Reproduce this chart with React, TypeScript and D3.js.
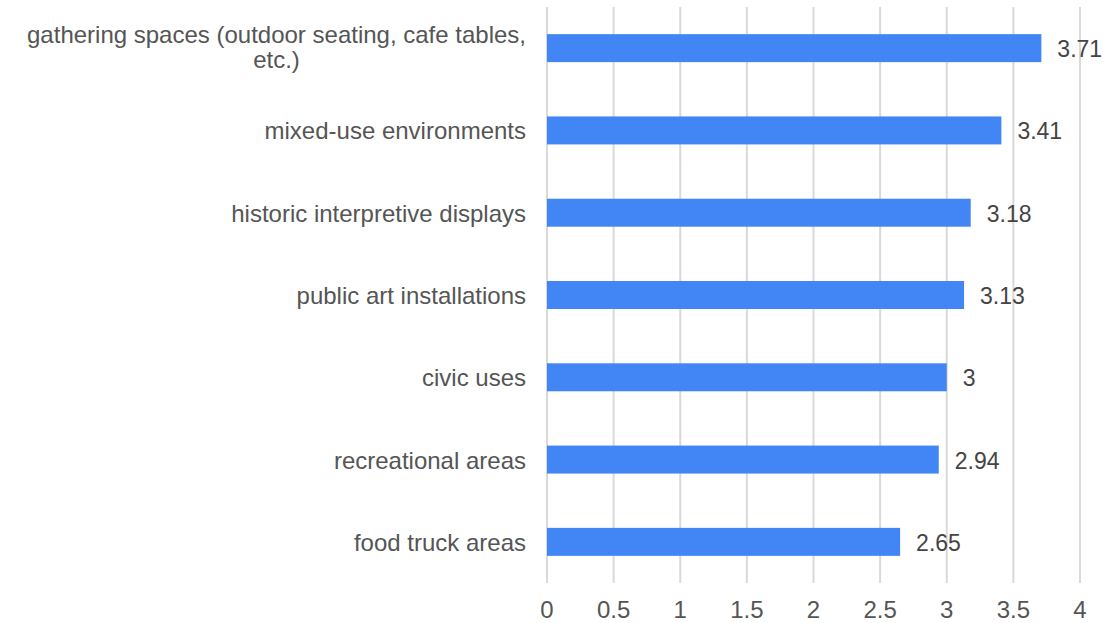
import React, { useEffect, useRef } from "react";
import * as d3 from "d3";

const categories: string[] = [
  "gathering spaces (outdoor seating, cafe tables, etc.)",
  "mixed-use environments",
  "historic interpretive displays",
  "public art installations",
  "civic uses",
  "recreational areas",
  "food truck areas",
];
const labelLines: string[][] = [
  ["gathering spaces (outdoor seating, cafe tables,", "etc.)"],
  ["mixed-use environments"],
  ["historic interpretive displays"],
  ["public art installations"],
  ["civic uses"],
  ["recreational areas"],
  ["food truck areas"],
];
const values: number[] = [3.71, 3.41, 3.18, 3.13, 3, 2.94, 2.65];
const ticks: number[] = [0, 0.5, 1, 1.5, 2, 2.5, 3, 3.5, 4];

export default function App() {
  const ref = useRef<SVGSVGElement>(null);
  useEffect(() => {
    const svg = d3.select(ref.current);
    svg.selectAll("*").remove();
    const font = "'Liberation Sans', Arial, sans-serif";
    const x = d3.scaleLinear().domain([0, 4]).range([547, 1080]);
    const y = d3
      .scaleBand<string>()
      .domain(categories)
      .range([7, 583])
      .paddingInner(0.66)
      .paddingOuter(0.33);

    svg
      .append("g")
      .selectAll("line")
      .data(ticks)
      .join("line")
      .attr("x1", (d) => x(d))
      .attr("x2", (d) => x(d))
      .attr("y1", 7)
      .attr("y2", 583)
      .attr("stroke", "#d9d9d9")
      .attr("stroke-width", 2);

    svg
      .append("g")
      .selectAll("text")
      .data(ticks)
      .join("text")
      .attr("x", (d) => x(d))
      .attr("y", 618)
      .attr("text-anchor", "middle")
      .attr("font-family", font)
      .attr("font-size", 24)
      .attr("fill", "#555")
      .text((d) => String(d));

    svg
      .append("g")
      .selectAll("rect")
      .data(values)
      .join("rect")
      .attr("x", x(0))
      .attr("y", (_d, i) => y(categories[i])!)
      .attr("width", (d) => x(d) - x(0))
      .attr("height", y.bandwidth())
      .attr("fill", "#4285f4");

    svg
      .append("g")
      .selectAll("text")
      .data(values)
      .join("text")
      .attr("x", (d) => x(d) + 16)
      .attr("y", (_d, i) => y(categories[i])! + y.bandwidth() / 2 + 9)
      .attr("font-family", font)
      .attr("font-size", 23)
      .attr("fill", "#444")
      .text((d) => String(d));

    const lg = svg.append("g");
    labelLines.forEach((lines, i) => {
      const cy = y(categories[i])! + y.bandwidth() / 2;
      const lh = 25;
      const top = lines.length > 1 ? cy - 5 : cy + 9;
      const first = lg
        .append("text")
        .attr("x", 526)
        .attr("y", top)
        .attr("text-anchor", "end")
        .attr("font-family", font)
        .attr("font-size", 24)
        .attr("fill", "#555")
        .text(lines[0]);
      const w = (first.node() as SVGTextElement).getComputedTextLength();
      for (let k = 1; k < lines.length; k++) {
        lg.append("text")
          .attr("x", 526 - w / 2)
          .attr("y", top + k * lh)
          .attr("text-anchor", "middle")
          .attr("font-family", font)
          .attr("font-size", 24)
          .attr("fill", "#555")
          .text(lines[k]);
      }
    });
  }, []);
  return (
    <svg
      ref={ref}
      width={1103}
      height={623}
      style={{ position: "absolute", left: 0, top: 0, background: "#fff" }}
    />
  );
}
